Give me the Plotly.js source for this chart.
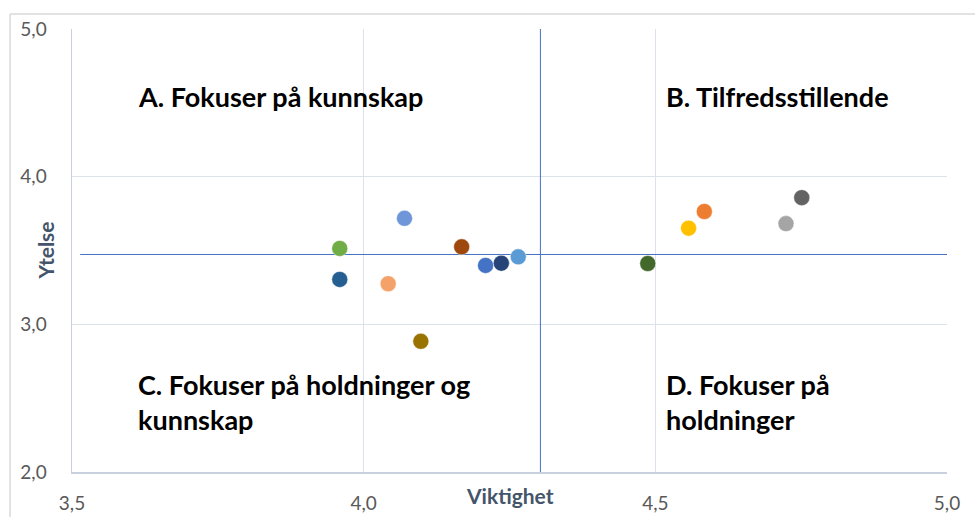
<!DOCTYPE html>
<html>
<head>
<meta charset="utf-8">
<script src="https://cdn.plot.ly/plotly-3.0.1.min.js"></script>
<style>html,body{margin:0;padding:0;background:#fff;}#chart{width:975px;height:517px;}</style>
</head>
<body>
<div id="chart"></div>
<script>
// Data: each point (Viktighet, Ytelse)
const viktighet = [3.959, 4.070, 3.959, 4.042, 4.168, 4.209, 4.236, 4.265, 4.098, 4.487, 4.557, 4.584, 4.724, 4.751];
const ytelse    = [3.514, 3.718, 3.304, 3.275, 3.525, 3.399, 3.414, 3.457, 2.885, 3.412, 3.651, 3.764, 3.682, 3.858];
const pointColors = ['#70AD47', '#6F96D8', '#255E91', '#F4A26A', '#9E480E', '#4472C4', '#264478', '#5B9BD5', '#997300', '#43682B', '#FFC000', '#ED7D31', '#A5A5A5', '#636363'];
const xTicks = [3.5, 4.0, 4.5, 5.0];
const xTickLabels = ['3,5', '4,0', '4,5', '5,0'];
const yTicks = [2.0, 3.0, 4.0, 5.0];
const yTickLabels = ['2,0', '3,0', '4,0', '5,0'];
const meanViktighet = 4.303;
const meanYtelse = 3.473;
const quadrantLabels = [
  {x: 3.61, y: 4.54, text: 'A. Fokuser på kunnskap'},
  {x: 4.515, y: 4.54, text: 'B. Tilfredsstillende'},
  {x: 3.61, y: 2.476, text: 'C. Fokuser på holdninger og<br>kunnskap'},
  {x: 4.515, y: 2.476, text: 'D. Fokuser på<br>holdninger'}
];

const traces = [
  {
    x: [meanViktighet, meanViktighet], y: [2.0, 5.0],
    mode: 'lines', line: {color: '#4472C4', width: 1}, hoverinfo: 'skip', showlegend: false
  },
  {
    x: [3.514, 5.0], y: [meanYtelse, meanYtelse],
    mode: 'lines', line: {color: '#4472C4', width: 1}, hoverinfo: 'skip', showlegend: false
  },
  {
    x: viktighet, y: ytelse, mode: 'markers', showlegend: false,
    marker: {size: 16, color: pointColors, line: {color: 'rgba(255,255,255,0.45)', width: 1}}
  }
];

const annotations = quadrantLabels.map(q => ({
  x: q.x, y: q.y, xref: 'x', yref: 'y', text: q.text, showarrow: false,
  xanchor: 'left', yanchor: 'middle', align: 'left',
  font: {family: 'Lato, "Open Sans", sans-serif', size: 27, color: '#000', weight: 'bold'}
}));
annotations.push({
  x: 0.5, y: 0, xref: 'paper', yref: 'paper', yshift: -23,
  text: '<b>Viktighet</b>', showarrow: false, xanchor: 'center', yanchor: 'middle',
  font: {family: 'Lato, "Open Sans", sans-serif', size: 21, color: '#44546A'}
});
annotations.push({
  x: 0, y: 0.5, xref: 'paper', yref: 'paper', xshift: -27, yshift: 0,
  text: '<b>Ytelse</b>', showarrow: false, textangle: -90, xanchor: 'center', yanchor: 'middle',
  font: {family: 'Lato, "Open Sans", sans-serif', size: 21, color: '#44546A'}
});

const layout = {
  width: 975, height: 517,
  margin: {l: 72, r: 28, t: 29, b: 45},
  paper_bgcolor: '#fff', plot_bgcolor: '#fff',
  xaxis: {
    range: [3.5, 5.0], tickvals: xTicks, ticktext: xTickLabels,
    showgrid: true, gridcolor: '#DDE2EA', gridwidth: 1.5, zeroline: false,
    showline: true, linecolor: '#C9D1DF', linewidth: 1.5,
    ticks: 'outside', ticklen: 14, tickcolor: 'rgba(0,0,0,0)',
    tickfont: {family: 'Lato, "Open Sans", sans-serif', size: 19, color: '#595959'}
  },
  yaxis: {
    range: [2.0, 5.0], tickvals: yTicks, ticktext: yTickLabels,
    showgrid: true, gridcolor: '#DDE2EA', gridwidth: 1.5, zeroline: false,
    showline: true, linecolor: '#C9D1DF', linewidth: 1.5,
    ticks: 'outside', ticklen: 20, tickcolor: 'rgba(0,0,0,0)',
    tickfont: {family: 'Lato, "Open Sans", sans-serif', size: 19, color: '#595959'}
  },
  annotations: annotations,
  shapes: [
    {type: 'line', xref: 'paper', yref: 'paper', x0: -0.0708, x1: 1.05, y0: 1.034, y1: 1.034, line: {color: '#D9D9D9', width: 1.5}},
    {type: 'line', xref: 'paper', yref: 'paper', x0: -0.0708, x1: -0.0708, y0: 1.034, y1: -0.12, line: {color: '#D9D9D9', width: 1.5}}
  ]
};

Plotly.newPlot('chart', traces, layout, {displayModeBar: false, staticPlot: true});
</script>
</body>
</html>
